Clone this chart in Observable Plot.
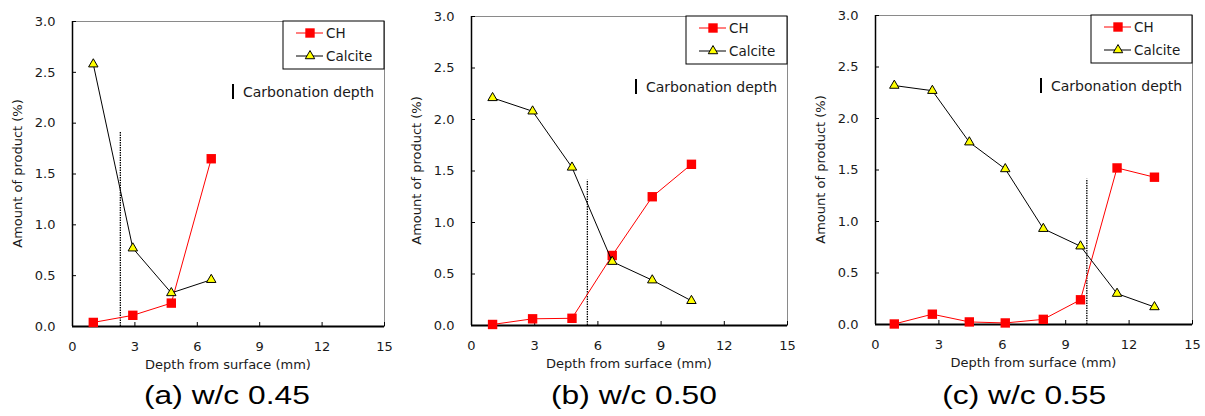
<!DOCTYPE html>
<html>
<head>
<meta charset="utf-8">
<script src="https://cdn.jsdelivr.net/npm/d3@7"></script>
<script src="https://cdn.jsdelivr.net/npm/@observablehq/plot@0.6"></script>
<style>
  html, body { margin: 0; padding: 0; background: #fff; }
  #root { position: relative; width: 1205px; height: 416px; overflow: hidden; }
  .panel { position: absolute; top: 0; }
  .caption { position: absolute; top: 380px; height: 36px; font-family: "Liberation Sans", Arial, sans-serif;
             font-size: 26px; color: #000; white-space: nowrap; }
  .caption span { display: inline-block; transform: scaleX(1.22); }
</style>
</head>
<body>
<div id="root"></div>
<script>
// ---------- data ----------
const xTicks = [0, 3, 6, 9, 12, 15];
const yTicks = [0, 0.5, 1.0, 1.5, 2.0, 2.5, 3.0];
const seriesNames = ["CH", "Calcite"];

const depthA = [1.0, 2.9, 4.75, 6.67];
const chA = [0.04, 0.11, 0.23, 1.65];
const calciteA = [2.58, 0.77, 0.33, 0.46];
const carbDepthA = 2.3;
const carbTopA = 1.91;

const depthB = [1.0, 2.9, 4.77, 6.68, 8.58, 10.44];
const chB = [0.01, 0.065, 0.07, 0.68, 1.25, 1.565];
const calciteB = [2.21, 2.08, 1.535, 0.62, 0.44, 0.24];
const carbDepthB = 5.5;
const carbTopB = 1.41;

const depthC = [0.89, 2.69, 4.44, 6.14, 7.94, 9.70, 11.43, 13.2];
const chC = [0.005, 0.10, 0.025, 0.015, 0.05, 0.24, 1.52, 1.43];
const calciteC = [2.32, 2.27, 1.77, 1.51, 0.93, 0.76, 0.30, 0.17];
const carbDepthC = 10.0;
const carbTopC = 1.41;

const captions = ["(a) w/c 0.45", "(b) w/c 0.50", "(c) w/c 0.55"];
const xLabel = "Depth from surface (mm)";
const yLabel = "Amount of product (%)";
const carbLabel = "Carbonation depth";

// ---------- layout ----------
const panels = [
  {left: 0,   width: 400, mL: 72, mR: 16, mT: 21, mB: 49, depth: depthA, ch: chA, cal: calciteA, carb: carbDepthA, carbTop: carbTopA, cap: captions[0], capCenter: 227},
  {left: 400, width: 400, mL: 71, mR: 13, mT: 16, mB: 50, depth: depthB, ch: chB, cal: calciteB, carb: carbDepthB, carbTop: carbTopB, cap: captions[1], capCenter: 634},
  {left: 800, width: 405, mL: 75, mR: 13, mT: 15, mB: 51, depth: depthC, ch: chC, cal: calciteC, carb: carbDepthC, carbTop: carbTopC, cap: captions[2], capCenter: 1024}
];
const H = 375;
const root = document.getElementById("root");
const txt = "#1a1a1a";

panels.forEach(p => {
  const chData = p.depth.map((d, i) => ({depth: d, value: p.ch[i]}));
  const calData = p.depth.map((d, i) => ({depth: d, value: p.cal[i]}));
  const svg = Plot.plot({
    width: p.width,
    height: H,
    marginLeft: p.mL, marginRight: p.mR, marginTop: p.mT, marginBottom: p.mB,
    style: {fontFamily: "DejaVu Sans", fontSize: "13px", color: txt, background: "white", overflow: "visible"},
    x: {domain: [0, 15]},
    y: {domain: [0, 3]},
    marks: [
      Plot.frame({stroke: "#8a8a8a", strokeWidth: 1}),
      Plot.ruleX([0], {stroke: "black", strokeWidth: 1.5}),
      Plot.ruleY([0], {stroke: "black", strokeWidth: 1.8}),
      Plot.axisX(xTicks, {tickSize: -4, tickPadding: 19, fontSize: 13, stroke: "black", label: null}),
      Plot.axisY(yTicks, {tickSize: -4, tickPadding: 21, fontSize: 13, stroke: "black",
        tickFormat: d3.format(".1f"), label: null}),
      Plot.ruleX([p.carb], {x: d => d, y1: 0, y2: p.carbTop, stroke: "black", strokeWidth: 1.3, strokeDasharray: "1.4,1.1"}),
      Plot.line(chData, {x: "depth", y: "value", stroke: "#ff0000", strokeWidth: 1}),
      Plot.dot(chData, {x: "depth", y: "value", symbol: "square", r: 5.3, fill: "#ff0000", stroke: "none"}),
      Plot.line(calData, {x: "depth", y: "value", stroke: "black", strokeWidth: 1}),
      Plot.dot(calData, {x: "depth", y: "value", symbol: "triangle", r: 3.5, fill: "#ffff00", stroke: "black", strokeWidth: 1})
    ]
  });

  const fx0 = p.mL, fx1 = p.width - p.mR, fy0 = p.mT, fy1 = H - p.mB;
  const g = d3.select(svg).append("g").attr("font-family", "DejaVu Sans").attr("fill", txt)
    .attr("text-anchor", "start");

  // axis titles
  g.append("text").attr("x", (fx0 + fx1) / 2).attr("y", fy1 + 43).attr("text-anchor", "middle")
    .attr("font-size", 13).text(xLabel);
  g.append("text").attr("transform", `translate(${fx0 - 50},${(fy0 + fy1) / 2}) rotate(-90)`)
    .attr("text-anchor", "middle").attr("font-size", 13).text(yLabel);

  // legend box (frame top-right)
  const bx = fx1 - 101;
  g.append("rect").attr("x", bx).attr("y", fy0).attr("width", 101).attr("height", 48)
    .attr("fill", "white").attr("stroke", "black").attr("stroke-width", 1);
  const rows = [fy0 + 12, fy0 + 35];
  g.append("line").attr("x1", bx + 13).attr("x2", bx + 40).attr("y1", rows[0]).attr("y2", rows[0]).attr("stroke", "#ff0000");
  g.append("path").attr("transform", `translate(${bx + 27},${rows[0]})`)
    .attr("d", d3.symbol(d3.symbolSquare, Math.PI * 5.3 * 5.3)()).attr("fill", "#ff0000");
  g.append("text").attr("x", bx + 43).attr("y", rows[0]).attr("dy", "0.36em").attr("font-size", 13.5).text(seriesNames[0]);
  g.append("line").attr("x1", bx + 13).attr("x2", bx + 40).attr("y1", rows[1]).attr("y2", rows[1]).attr("stroke", "black");
  g.append("path").attr("transform", `translate(${bx + 27},${rows[1]})`)
    .attr("d", d3.symbol(d3.symbolTriangle, Math.PI * 3.5 * 3.5)()).attr("fill", "#ffff00").attr("stroke", "black");
  g.append("text").attr("x", bx + 43).attr("y", rows[1]).attr("dy", "0.36em").attr("font-size", 13.5).text(seriesNames[1]);

  // carbonation depth annotation
  g.append("line").attr("x1", fx1 - 151).attr("x2", fx1 - 151).attr("y1", fy0 + 63).attr("y2", fy0 + 78)
    .attr("stroke", "black").attr("stroke-width", 2);
  g.append("text").attr("x", fx1 - 141).attr("y", fy0 + 71).attr("dy", "0.36em").attr("font-size", 14).text(carbLabel);

  const div = document.createElement("div");
  div.className = "panel";
  div.style.left = p.left + "px";
  div.appendChild(svg);
  root.appendChild(div);

  const cap = document.createElement("div");
  cap.className = "caption";
  cap.style.left = (p.capCenter - 150) + "px";
  cap.style.width = "300px";
  cap.style.textAlign = "center";
  const sp = document.createElement("span");
  sp.textContent = p.cap;
  cap.appendChild(sp);
  root.appendChild(cap);
});
</script>
</body>
</html>
